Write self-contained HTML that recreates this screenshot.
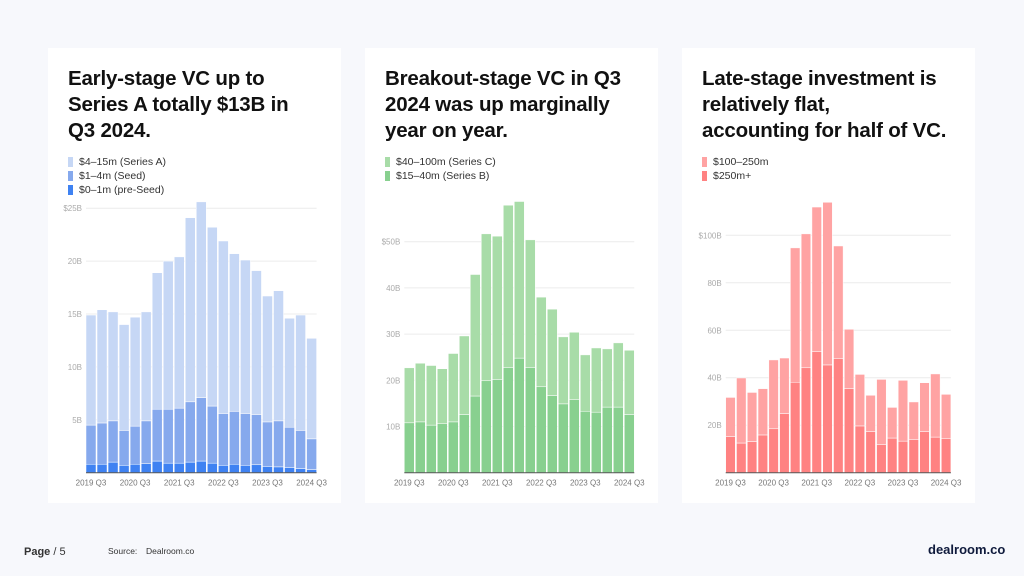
<!DOCTYPE html>
<html><head><meta charset="utf-8">
<style>
body{margin:0;width:1024px;height:576px;background:#f7f8fc;font-family:"Liberation Sans",sans-serif;position:relative;overflow:hidden}
.card{position:absolute;top:48px;width:293px;height:455px;background:#fff}
.title{position:absolute;left:20px;top:18px;font-size:20.5px;font-weight:bold;line-height:26px;color:#111;letter-spacing:-0.2px}
.legend{position:absolute;left:20px;top:107px;font-size:10.5px;color:#333}
.leg{height:14px;display:flex;align-items:center}
.sw{width:5px;height:10px;margin-right:6px}
svg{position:absolute;left:0;top:0}
.foot{position:absolute;font-size:10px;color:#333}
</style></head><body>
<div class="card" style="left:48px">
 <div class="title">Early-stage VC up to<br>Series A totally $13B in<br>Q3 2024.</div>
 <div class="legend">
  <div class="leg"><span class="sw" style="background:#c6d7f5"></span>$4–15m (Series A)</div>
  <div class="leg"><span class="sw" style="background:#86a9ed"></span>$1–4m (Seed)</div>
  <div class="leg"><span class="sw" style="background:#3f82f2"></span>$0–1m (pre-Seed)</div>
 </div>
 <svg id="c1" width="293" height="455"></svg>
</div>
<div class="card" style="left:365px">
 <div class="title">Breakout-stage VC in Q3<br>2024 was up marginally<br>year on year.</div>
 <div class="legend">
  <div class="leg"><span class="sw" style="background:#a8dca8"></span>$40–100m (Series C)</div>
  <div class="leg"><span class="sw" style="background:#88d08f"></span>$15–40m (Series B)</div>
 </div>
 <svg id="c2" width="293" height="455"></svg>
</div>
<div class="card" style="left:682px">
 <div class="title">Late-stage investment is<br>relatively flat,<br>accounting for half of VC.</div>
 <div class="legend">
  <div class="leg"><span class="sw" style="background:#ffa3a3"></span>$100–250m</div>
  <div class="leg"><span class="sw" style="background:#ff8282"></span>$250m+</div>
 </div>
 <svg id="c3" width="293" height="455"></svg>
</div>
<div class="foot" style="left:24px;top:546px;font-size:11px"><b style="font-weight:600">Page</b> / 5</div>
<div class="foot" style="left:108px;top:546px;font-size:8.5px">Source:</div>
<div class="foot" style="left:146px;top:546px;font-size:8.5px">Dealroom.co</div>
<div class="foot" style="left:928px;top:542px;font-size:13px;font-weight:bold;color:#0f1a3c">dealroom.co</div>
<script>
const categories=["2019 Q3","2019 Q4","2020 Q1","2020 Q2","2020 Q3","2020 Q4","2021 Q1","2021 Q2","2021 Q3","2021 Q4","2022 Q1","2022 Q2","2022 Q3","2022 Q4","2023 Q1","2023 Q2","2023 Q3","2023 Q4","2024 Q1","2024 Q2","2024 Q3"];
const xLabels=["2019 Q3","2020 Q3","2021 Q3","2022 Q3","2023 Q3","2024 Q3"];
// early stage (billions)
const seriesA=[10.4,10.7,10.3,10.0,10.3,10.3,12.9,14.0,14.3,17.4,18.5,16.9,16.3,14.9,14.5,13.6,11.9,12.3,10.3,10.9,9.5];
const seed=[3.7,3.9,3.9,3.3,3.6,4.05,4.9,5.1,5.2,5.7,6.0,5.4,4.9,5.0,4.9,4.75,4.2,4.35,3.8,3.6,2.9];
const preSeed=[0.8,0.8,1.0,0.7,0.8,0.85,1.1,0.9,0.9,1.0,1.1,0.9,0.7,0.8,0.7,0.75,0.6,0.55,0.5,0.4,0.3];
const earlyTicks=[5,10,15,20,25];
// breakout stage
const seriesB=[10.8,11.0,10.3,10.6,11.0,12.6,16.6,19.9,20.2,22.8,24.8,22.8,18.6,16.7,14.9,15.8,13.3,13.1,14.2,14.2,12.6];
const seriesC=[11.9,12.7,12.9,11.9,14.8,17.0,26.3,31.8,31.0,35.1,33.9,27.6,19.4,18.7,14.5,14.6,12.2,13.9,12.6,13.9,13.9];
const breakoutTicks=[10,20,30,40,50];
// late stage
const plus250=[15.2,12.5,13.1,15.9,18.5,24.9,38.1,44.2,51.1,45.4,48.0,35.4,19.7,17.3,11.8,14.6,13.3,13.9,17.3,15.0,14.3];
const m100to250=[16.5,27.4,20.7,19.5,29.0,23.4,56.6,56.4,60.8,68.5,47.5,25.0,21.7,15.3,27.5,12.9,25.6,15.9,20.6,26.6,18.7];
const lateTicks=[20,40,60,80,100];

const NS="http://www.w3.org/2000/svg";
function mk(svg,tag,attrs){const e=document.createElementNS(NS,tag);for(const k in attrs)e.setAttribute(k,attrs[k]);svg.appendChild(e);return e;}
function chart(id,stacks,colors,ticks,geo){
  const svg=document.getElementById(id);
  const y=v=>geo.base-v*geo.pxPer;
  const x=i=>geo.x0+i*geo.pitch;
  ticks.forEach((t,k)=>{
    const g=mk(svg,'line',{x1:x(0),x2:x(categories.length-1)+geo.bw,y1:y(t),y2:y(t),stroke:'#ececec','stroke-width':1});
    
    
    const tx=mk(svg,'text',{x:geo.x0-4,y:y(t)+3,'text-anchor':'end','font-size':8,fill:'#aaa'});
    tx.textContent=(k===ticks.length-1?'$':'')+t+'B';
    
    
  });
  categories.forEach((c,i)=>{
    let acc=0;
    stacks.forEach((s,j)=>{
      const v=s[i];
      const r=mk(svg,'rect',{x:x(i),y:y(acc+v),width:geo.bw,height:v*geo.pxPer,fill:colors[j],stroke:'#fff','stroke-width':0.5});
      
      
      acc+=v;
    });
    const li=xLabels.indexOf(c);
    if(li>=0){
      const t=mk(svg,'text',{x:x(i)+geo.bw/2,y:geo.base+13,'text-anchor':'middle','font-size':8,fill:'#777'});
      t.textContent=c;
      
      
    }
  });
  const ax=mk(svg,'line',{x1:x(0),x2:x(categories.length-1)+geo.bw,y1:geo.base,y2:geo.base,stroke:'#555','stroke-width':1});
  
  
}
chart('c1',[preSeed,seed,seriesA],['#3f82f2','#86a9ed','#c6d7f5'],earlyTicks,{base:424.7,pxPer:10.58,x0:38,pitch:11.03,bw:10});
chart('c2',[seriesB,seriesC],['#88d08f','#a8dca8'],breakoutTicks,{base:424.7,pxPer:4.62,x0:39.3,pitch:11,bw:10});
chart('c3',[plus250,m100to250],['#ff8282','#ffa3a3'],lateTicks,{base:424.7,pxPer:2.374,x0:43.7,pitch:10.78,bw:9.6});
</script>
</body></html>
